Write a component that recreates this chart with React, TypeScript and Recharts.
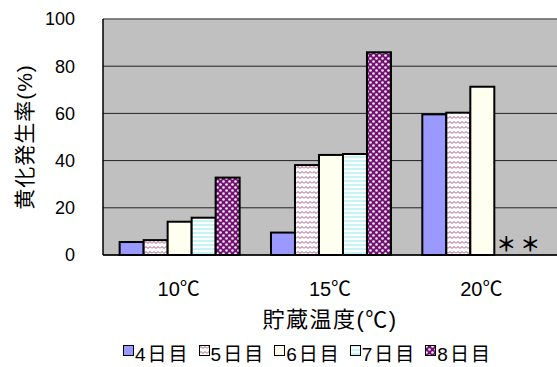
import { BarChart, Bar, XAxis, YAxis, CartesianGrid, ReferenceLine, Legend } from "recharts";

const categories = ["10℃", "15℃", "20℃"];
const day4 = [5.5, 9.5, 59.6];
const day5 = [6.3, 38.1, 60.3];
const day6 = [14.1, 42.4, 71.3];
// null = no data at 20℃ (drawn as "*")
const day7: (number | null)[] = [15.8, 42.8, null];
const day8: (number | null)[] = [32.8, 85.9, null];
const seriesNames = ["4日目", "5日目", "6日目", "7日目", "8日目"];
const yTicks = [0, 20, 40, 60, 80, 100];

const data = categories.map((temp, i) => ({
  temp,
  d4: day4[i],
  d5: day5[i],
  d6: day6[i],
  d7: day7[i],
  d8: day8[i],
}));

const FONT = "'Liberation Sans', 'Noto Sans CJK JP', sans-serif";

const series = [
  { key: "d4", fill: "#9999ff" },
  { key: "d5", fill: "url(#wave)" },
  { key: "d6", fill: "#fffff0" },
  { key: "d7", fill: "url(#stripe)" },
  { key: "d8", fill: "url(#dots)" },
];

// bar with black outline; missing values get an asterisk on the baseline
const makeShape = (key: string) => (props: any) => {
  const { x, y, width, height, fill, payload } = props;
  if (payload[key] == null) {
    return (
      <text
        x={x + width / 2}
        y={y - 3}
        textAnchor="middle"
        fontSize={20}
        fontWeight="bold"
        fontFamily="'Noto Sans CJK JP', sans-serif"
        fill="#000"
      >
        ＊
      </text>
    );
  }
  return <rect x={x} y={y} width={width} height={height} fill={fill} stroke="#000" strokeWidth={2} />;
};

const YLabel = (props: any) => {
  const vb = props.viewBox;
  const cx = vb.x + 24;
  const cy = vb.y + vb.height / 2;
  return (
    <text
      x={cx}
      y={cy}
      transform={`rotate(-90 ${cx} ${cy})`}
      textAnchor="middle"
      dominantBaseline="central"
      fontSize={21}
      letterSpacing={1}
      fontFamily={FONT}
      fill="#000"
    >
      黄化発生率(%)
    </text>
  );
};

const LegendContent = () => (
  <div style={{ display: "flex", fontFamily: FONT, fontSize: 19, color: "#000", letterSpacing: 2 }}>
    {seriesNames.map((name, i) => (
      <div key={name} style={{ display: "flex", alignItems: "center", marginRight: 9 }}>
        <svg width={11} height={11} style={{ marginRight: 1, marginTop: -4 }}>
          <rect x={0.5} y={0.5} width={10} height={10} fill={series[i].fill} stroke="#000" strokeWidth={1} />
        </svg>
        <span>{name}</span>
      </div>
    ))}
  </div>
);

export default function App() {
  return (
    <div style={{ position: "absolute", left: 0, top: 0, width: 557, height: 367, background: "#fff" }}>
      <BarChart
        width={557}
        height={367}
        data={data}
        margin={{ top: 19, right: 0, left: 0, bottom: 0 }}
        barGap={0}
        barCategoryGap="11%"
      >
        <defs>
          <pattern id="wave" width="8" height="5" patternUnits="userSpaceOnUse">
            <rect width="8" height="5" fill="#fff" />
            <path d="M0 3.5 L2 1.5 L4 3.5 L6 1.5 L8 3.5" fill="none" stroke="#a8507e" strokeWidth="1" />
          </pattern>
          <pattern id="stripe" width="4" height="4" patternUnits="userSpaceOnUse">
            <rect width="4" height="4" fill="#fff" />
            <rect width="4" height="2" fill="#c4f4f4" />
          </pattern>
          <pattern id="dots" width="6" height="6" patternUnits="userSpaceOnUse">
            <rect width="6" height="6" fill="#701070" />
            <circle cx="1.5" cy="1.5" r="1.3" fill="#fbeefb" />
            <circle cx="4.5" cy="4.5" r="1.3" fill="#fbeefb" />
          </pattern>
        </defs>
        <CartesianGrid vertical={false} stroke="#222" fill="#c0c0c0" />
        <XAxis
          dataKey="temp"
          height={112}
          axisLine={{ stroke: "#000", strokeWidth: 1.5 }}
          tickLine={false}
          tickSize={0}
          tickMargin={27}
          tick={{ fontSize: 20, fill: "#000", fontFamily: FONT }}
          label={{
            value: "貯蔵温度(℃)",
            position: "insideTop",
            offset: 56,
            fontSize: 22,
            letterSpacing: 1.5,
            fill: "#000",
            fontFamily: FONT,
          }}
        />
        <YAxis
          width={103}
          domain={[0, 100]}
          ticks={yTicks}
          axisLine={{ stroke: "#000", strokeWidth: 1.5 }}
          tickLine={false}
          tickSize={0}
          tickMargin={28}
          tick={{ fontSize: 18, fill: "#000", fontFamily: FONT }}
          label={<YLabel />}
        />
        <ReferenceLine y={100} stroke="#808080" strokeWidth={1.5} />
        {series.map((s, i) => (
          <Bar
            key={s.key}
            name={seriesNames[i]}
            dataKey={(d: any) => d[s.key] ?? 0}
            fill={s.fill}
            shape={makeShape(s.key)}
            isAnimationActive={false}
          />
        ))}
        <Legend
          layout="horizontal"
          verticalAlign="middle"
          content={<LegendContent />}
          wrapperStyle={{ position: "absolute", top: 339, left: 123, width: "auto" }}
        />
      </BarChart>
    </div>
  );
}
